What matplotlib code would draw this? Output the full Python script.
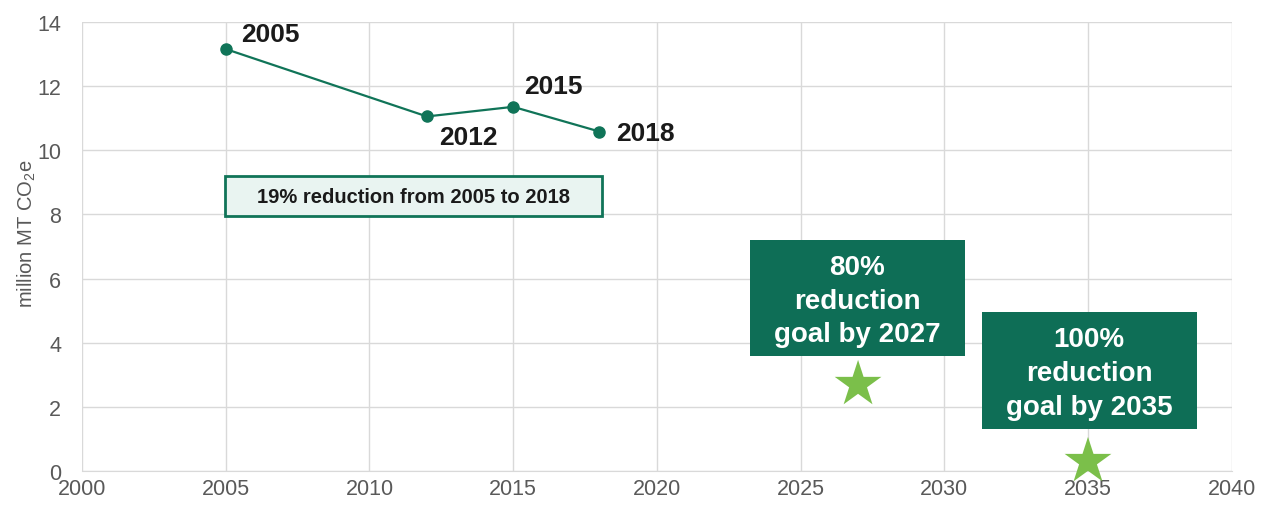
import matplotlib.pyplot as plt
from matplotlib.patches import Rectangle

plt.rcParams['font.family'] = ['Liberation Sans', 'DejaVu Sans']
plt.rcParams['mathtext.fontset'] = 'custom'
plt.rcParams['mathtext.rm'] = 'Liberation Sans'

# data
years = [2005, 2012, 2015, 2018]
emissions = [13.15, 11.05, 11.35, 10.58]
year_labels = ['2005', '2012', '2015', '2018']
goal_years = [2027, 2035]
goal_values = [2.7, 0.3]
goal_texts = ['80%\nreduction\ngoal by 2027', '100%\nreduction\ngoal by 2035']
note_text = '19% reduction from 2005 to 2018'

dark_green = '#0e6e56'
line_green = '#107458'
star_green = '#7bbf4a'
grid_col = '#d9d9d9'
tick_col = '#595959'

fig = plt.figure(figsize=(12.62, 5.06), dpi=100)
ax = fig.add_axes([0.065, 0.067, 0.911, 0.888])

ax.plot(years, emissions, color=line_green, lw=1.6, marker='o', ms=8, zorder=3)

# labels next to points (offsets in points)
offsets = [(11, 11), (9, -15), (8, 15), (12, -1)]
for x, y, lab, off in zip(years, emissions, year_labels, offsets):
    ax.annotate(lab, (x, y), xytext=off, textcoords='offset points',
                ha='left', va='center', fontsize=19, fontweight='bold', color='#1a1a1a')

# note box
ax.add_patch(Rectangle((2004.97, 7.95), 13.12, 1.25, facecolor='#e9f4f1',
                       edgecolor=line_green, lw=2, zorder=4))
ax.text(2011.53, 8.57, note_text, ha='center', va='center', fontsize=14.5,
        fontweight='bold', color='#1a1a1a', zorder=5)

# goal boxes
boxes = [(2023.23, 3.59, 7.48, 3.61), (2031.30, 1.31, 7.48, 3.65)]
for (bx, by, bw, bh), txt in zip(boxes, goal_texts):
    ax.add_patch(Rectangle((bx, by), bw, bh, facecolor=dark_green, edgecolor='none', zorder=4))
    ax.text(bx + bw / 2, by + bh / 2 - 0.08, txt, ha='center', va='center', fontsize=20,
            fontweight='bold', color='white', linespacing=1.38, zorder=5)

ax.scatter(goal_years, goal_values, marker='*', s=1250, color=star_green,
           edgecolors='none', zorder=6, clip_on=False)

ax.set_xlim(2000, 2040)
ax.set_ylim(0, 14)
ax.set_xticks(range(2000, 2041, 5))
ax.set_yticks(range(0, 15, 2))
ax.grid(True, color=grid_col, lw=1)
ax.set_axisbelow(True)
for s in ['top', 'right', 'left']:
    ax.spines[s].set_visible(False)
ax.spines['bottom'].set_color(grid_col)
ax.tick_params(length=0, labelsize=15.5, colors=tick_col)
ax.tick_params(axis='x', pad=5)
ax.tick_params(axis='y', pad=15)
ax.set_ylabel('million MT CO$_{2}$e', fontsize=14.5, color=tick_col)
ax.yaxis.set_label_coords(-0.038, 0.53)

fig.savefig('out.png', dpi=100)
